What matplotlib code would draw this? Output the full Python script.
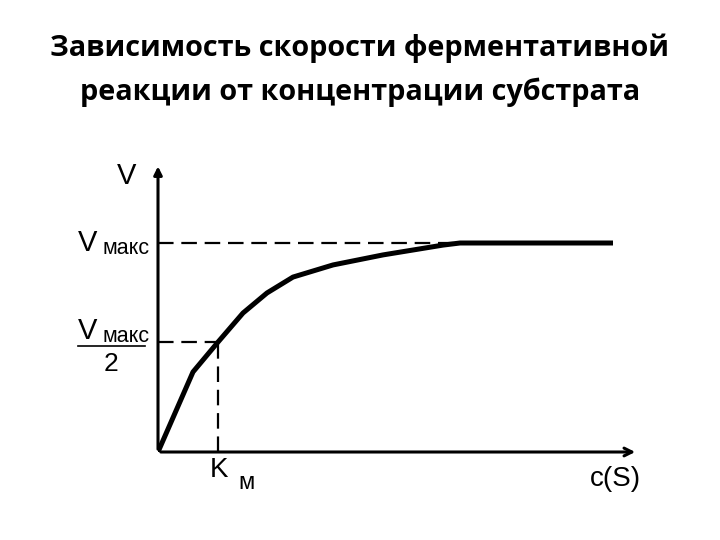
import matplotlib
matplotlib.use('Agg')
import matplotlib.pyplot as plt

matplotlib.rcParams['font.family'] = ['Liberation Sans', 'DejaVu Sans']

# curve (x in arbitrary units, v as fraction of Vmax)
conc = [0.0, 3.5, 6.0, 8.5, 10.9, 13.5, 17.5, 22.5, 28.5, 30.2, 45.5]
rate = [0.0, 0.383, 0.526, 0.665, 0.761, 0.837, 0.895, 0.943, 0.990, 1.0, 1.0]

v_max = 1.0
v_half = 0.526
km = 6.0
dash_end = 31.5

title_lines = ['Зависимость скорости ферментативной',
               'реакции от концентрации субстрата']

W, H = 720, 540
fig = plt.figure(figsize=(7.2, 5.4), dpi=100)

# px = 158 + 10*x, py = 452 - 209*v
ax = fig.add_axes([158 / W, 88 / H, 480 / W, 1.38 * 209 / H])
ax.set_xlim(0, 48)
ax.set_ylim(0, 1.38)
ax.axis('off')

# axes with arrows
ax.annotate('', xy=(0, 1.38), xytext=(0, 0),
            arrowprops=dict(arrowstyle='-|>', color='black', lw=2.2, mutation_scale=12))
ax.annotate('', xy=(48, 0), xytext=(0, 0),
            arrowprops=dict(arrowstyle='->', color='black', lw=2.2, mutation_scale=14))

dash = (0, (7, 3.5))
ax.plot([0, dash_end], [v_max, v_max], color='black', lw=1.6, linestyle=dash)
ax.plot([0, km], [v_half, v_half], color='black', lw=1.6, linestyle=dash)
ax.plot([km, km], [0, v_half], color='black', lw=1.6, linestyle=dash)

ax.plot(conc, rate, color='black', lw=3.6, solid_capstyle='butt')

# text labels (figure pixels, measured from top)
def ftext(x, y, s, **kw):
    fig.text(x / W, 1 - y / H, s, **kw)

ftext(360, 48, title_lines[0], ha='center', va='center', fontsize=20.8,
      fontweight='bold', family='Open Sans')
ftext(360, 92, title_lines[1], ha='center', va='center', fontsize=20.8,
      fontweight='bold', family='Open Sans')

ftext(127, 176, 'V', ha='center', va='center', fontsize=21)
ftext(88, 243, 'V', ha='center', va='center', fontsize=21)
ftext(126, 248, 'макс', ha='center', va='center', fontsize=15.5)
ftext(88, 331, 'V', ha='center', va='center', fontsize=21)
ftext(126, 336, 'макс', ha='center', va='center', fontsize=15.5)
fig.add_artist(plt.Line2D([78 / W, 145 / W], [1 - 346 / H, 1 - 346 / H], color='black', lw=1.2))
ftext(111, 364, '2', ha='center', va='center', fontsize=19)
ftext(219, 470, 'K', ha='center', va='center', fontsize=20)
ftext(246, 483, 'м', ha='center', va='center', fontsize=17)
ftext(615, 479, 'c(S)', ha='center', va='center', fontsize=20)

fig.savefig('out.png', dpi=100)
